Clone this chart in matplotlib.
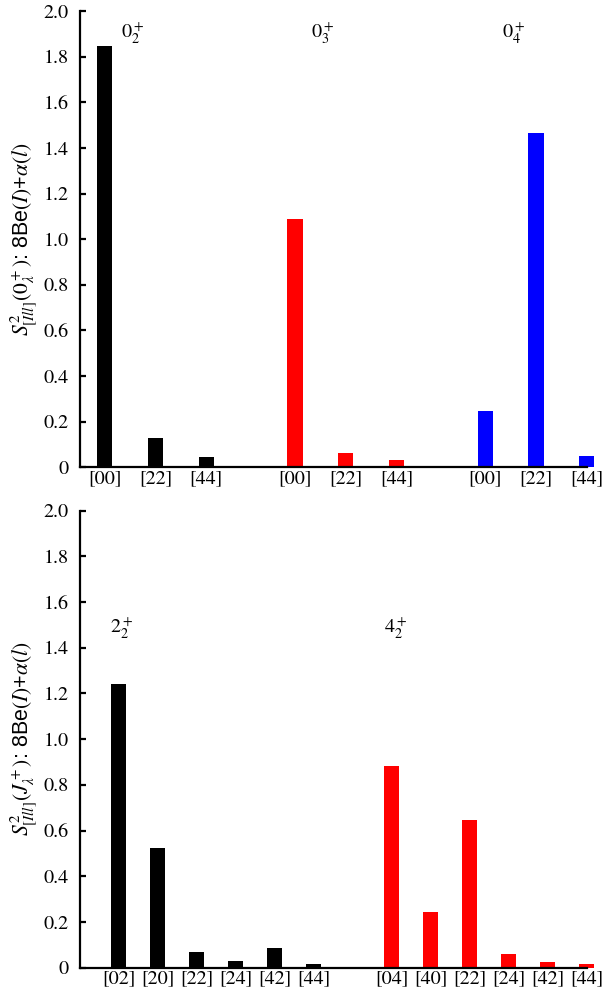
import matplotlib
matplotlib.use('Agg')
import matplotlib.pyplot as plt

plt.rcParams['font.family'] = 'serif'
plt.rcParams['font.serif'] = ['STIXGeneral', 'Liberation Serif', 'DejaVu Serif']
plt.rcParams['mathtext.fontset'] = 'stix'

# 上图: 0+ 态
top_labels = ['[00]', '[22]', '[44]']
top_pos = [[0, 1, 2], [3.75, 4.75, 5.75], [7.5, 8.5, 9.5]]
top_vals = [[1.848, 0.127, 0.044],
            [1.088, 0.064, 0.032],
            [0.247, 1.465, 0.050]]
top_colors = ['black', 'red', 'blue']
top_states = [r'$0^+_2$', r'$0^+_3$', r'$0^+_4$']

# 下图: 2+ 和 4+ 态
bot_labels = [['[02]', '[20]', '[22]', '[24]', '[42]', '[44]'],
              ['[04]', '[40]', '[22]', '[24]', '[42]', '[44]']]
bot_pos = [[0, 1, 2, 3, 4, 5], [7, 8, 9, 10, 11, 12]]
bot_vals = [[1.242, 0.525, 0.067, 0.029, 0.085, 0.016],
            [0.881, 0.244, 0.646, 0.059, 0.024, 0.015]]
bot_colors = ['black', 'red']
bot_states = [r'$2^+_2$', r'$4^+_2$']

yticks = [0, 0.2, 0.4, 0.6, 0.8, 1.0, 1.2, 1.4, 1.6, 1.8, 2.0]
yticklabels = ['0', '0.2', '0.4', '0.6', '0.8', '1.0', '1.2', '1.4', '1.6', '1.8', '2.0']


def style_axis(ax, xlim, ylabel):
    ax.set_xlim(*xlim)
    ax.set_ylim(0, 2.0)
    ax.set_yticks(yticks)
    ax.set_yticklabels(yticklabels, fontsize=14.5)
    ax.spines['top'].set_visible(False)
    ax.spines['right'].set_visible(False)
    ax.spines['left'].set_linewidth(1.6)
    ax.spines['bottom'].set_linewidth(1.6)
    ax.tick_params(axis='y', direction='in', length=4.5, width=1.6, pad=8)
    ax.tick_params(axis='x', length=0, pad=2, labelsize=14.5)
    ax.set_ylabel(ylabel, fontsize=15.5, family=['Liberation Sans', 'DejaVu Sans'], labelpad=3)


fig = plt.figure(figsize=(6.15, 9.94), dpi=100)

ax1 = fig.add_axes([0.130, 0.530, 0.824, 0.4587])
xt, xl = [], []
for pos, vals, c in zip(top_pos, top_vals, top_colors):
    ax1.bar(pos, vals, width=0.3, color=c, clip_on=False)
    xt += pos
    xl += top_labels
ax1.set_xticks(xt)
ax1.set_xticklabels(xl)
for pos, s in zip(top_pos, top_states):
    ax1.text(pos[0] + 0.55, 1.905, s, fontsize=14.5, ha='center', va='center')
style_axis(ax1, (-0.49, 9.5), r'$S^2_{[Ill]}(0^+_\lambda)$: 8Be$(I)$+$\alpha(l)$')

ax2 = fig.add_axes([0.130, 0.0265, 0.824, 0.4597])
xt, xl = [], []
for pos, vals, c, labs in zip(bot_pos, bot_vals, bot_colors, bot_labels):
    ax2.bar(pos, vals, width=0.385, color=c, clip_on=False)
    xt += pos
    xl += labs
ax2.set_xticks(xt)
ax2.set_xticklabels(xl)
for pos, s in zip(bot_pos, bot_states):
    ax2.text(pos[0] + 0.09, 1.49, s, fontsize=14.5, ha='center', va='center')
style_axis(ax2, (-0.99, 12.0), r'$S^2_{[Ill]}(J^+_\lambda)$: 8Be$(I)$+$\alpha(l)$')

fig.savefig('out.png', dpi=100)
